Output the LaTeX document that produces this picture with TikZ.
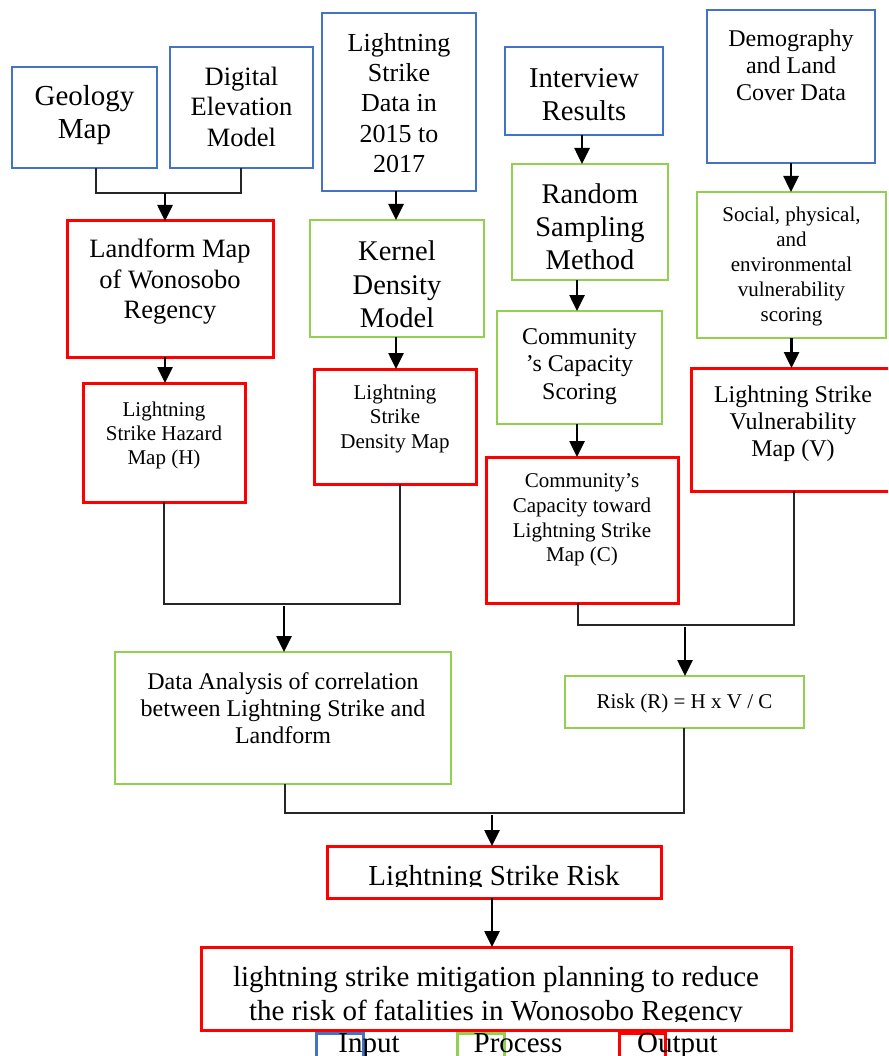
\documentclass[tikz,border=0pt]{standalone}
\usepackage{fontspec}
\setmainfont{Liberation Serif}
\usetikzlibrary{arrows.meta}
\definecolor{inblue}{RGB}{68,114,196}
\definecolor{prgreen}{RGB}{146,208,80}
\definecolor{outred}{RGB}{255,0,0}
\newcommand\fsz[2]{\fontsize{#1pt}{#2pt}\selectfont}
\begin{document}
\begin{tikzpicture}[x=1pt,y=-1pt,
 inbox/.style={draw=inblue,line width=2.5pt,inner sep=0pt,outer sep=0pt},
 prbox/.style={draw=prgreen,line width=2.5pt,inner sep=0pt,outer sep=0pt},
 outbox/.style={draw=outred,line width=3pt,inner sep=0pt,outer sep=0pt},
 txt/.style={align=center,inner sep=0pt,outer sep=0pt,text=black},
 conn/.style={draw=black!85,line width=1.3pt},
 arr/.style={draw=black,line width=2.6pt,-{Triangle[width=15pt,length=16pt]}},
 bw/.style 2 args={minimum width=#1pt,minimum height=#2pt}
]
\clip (0,0) rectangle (888,1056);
\fill[white] (0,0) rectangle (888,1056);

% inputs
\node[inbox,bw={145}{101}] (geo) at (84.5,117.5) {};
\node[txt,font=\fsz{29}{33}] (geot) at (84.5,115) {Geology\\Map};
\node[inbox,bw={143}{121}] (dem) at (241.5,107.5) {};
\node[txt,font=\fsz{26.5}{30.5}] (demt) at (241.5,106.5) {Digital\\Elevation\\Model};
\node[inbox,bw={154}{178}] (lsd) at (399,102) {};
\node[txt,font=\fsz{26}{30.3}] (lsdt) at (399,103) {Lightning\\Strike\\Data in\\2015 to\\2017};
\node[inbox,bw={158}{88}] (int) at (584,91) {};
\node[txt,font=\fsz{28.7}{33}] (intt) at (584,94.5) {Interview\\Results};
\node[inbox,bw={168}{153}] (demo) at (791,86.5) {};
\node[txt,font=\fsz{24}{27}] (demot) at (791,65) {Demography\\and Land\\Cover Data};

% second row
\node[outbox,bw={206}{136}] (land) at (170,289) {};
\node[txt,font=\fsz{26.5}{30.5}] (landt) at (170,282) {Landform Map\\of Wonosobo\\Regency};
\node[prbox,bw={174}{117}] (kern) at (397,278.5) {};
\node[txt,font=\fsz{28.5}{33.5}] (kernt) at (397,284.5) {Kernel\\Density\\Model};
\node[prbox,bw={156}{116}] (rand) at (590,222) {};
\node[txt,font=\fsz{28.5}{33}] (randt) at (590,227) {Random\\Sampling\\Method};
\node[prbox,bw={189}{146}] (soc) at (791.5,265) {};
\node[txt,font=\fsz{21}{24.8}] (soct) at (791.5,266.5) {Social, physical,\\and\\environmental\\vulnerability\\scoring};

% third row
\node[outbox,bw={162}{119}] (haz) at (164,442.5) {};
\node[txt,font=\fsz{21}{24}] (hazt) at (164,435) {Lightning\\Strike Hazard\\Map (H)};
\node[outbox,bw={162}{115}] (dens) at (395,426.5) {};
\node[txt,font=\fsz{21}{24.5}] (denst) at (395,418.5) {Lightning\\Strike\\Density Map};
\node[prbox,bw={165}{113}] (caps) at (579.5,367.5) {};
\node[txt,font=\fsz{24}{27.5}] (capst) at (579.5,366.5) {Community\\’s Capacity\\Scoring};
\node[outbox,bw={201}{123}] (vuln) at (791.5,429.5) {};
\node[txt,font=\fsz{24}{27}] (vulnt) at (793,424) {Lightning Strike\\Vulnerability\\Map (V)};
\node[outbox,bw={192}{146}] (capm) at (582,530) {};
\node[txt,font=\fsz{21}{24.6}] (capmt) at (582,520) {Community’s\\Capacity toward\\Lightning Strike\\Map (C)};

% analysis row
\node[prbox,bw={336}{132}] (ana) at (283,718) {};
\node[txt,font=\fsz{24}{27}] (anat) at (283,708) {Data Analysis of correlation\\between Lightning Strike and\\Landform};
\node[prbox,bw={239}{52}] (risk) at (684.5,702) {};
\node[txt,font=\fsz{21}{24}] (riskt) at (684.5,703) {Risk (R) = H x V / C};

% outputs
\node[outbox,bw={334}{52}] (lsr) at (494,872) {};
\begin{scope}
\clip (327,846) rectangle (661,886);
\node[txt,font=\fsz{29}{34},anchor=base] (lsrt) at (494,885) {Lightning Strike Risk};
\end{scope}
\node[outbox,bw={590}{83}] (fin) at (496,988.5) {};
\begin{scope}
\clip (201,947) rectangle (791,1021);
\node[txt,font=\fsz{29}{34},anchor=base] (fint1) at (496,986) {lightning strike mitigation planning to reduce};
\node[txt,font=\fsz{29}{34},anchor=base] (fint2) at (496,1020) {the risk of fatalities in Wonosobo Regency};
\end{scope}

% legend
\node[inbox,line width=3pt,bw={47}{40}] (lgin) at (339.5,1053) {};
\node[txt,font=\fsz{29}{33},anchor=base] (lgint) at (369,1052) {Input};
\node[prbox,line width=3pt,bw={47}{40}] (lgpr) at (480.5,1053) {};
\node[txt,font=\fsz{29}{33},anchor=base] (lgprt) at (518,1052) {Process};
\node[outbox,line width=3pt,bw={46}{40}] (lgout) at (642,1053) {};
\node[txt,font=\fsz{29}{33},anchor=base] (lgoutt) at (677.5,1052) {Output};

% junction coordinates
\coordinate (g1) at (96,193);
\coordinate (g2) at (241,193);
\coordinate (g0) at (165,193);
\coordinate (k0) at (396,0);
\coordinate (i0) at (582,0);
\coordinate (r0) at (577,0);
\coordinate (h1) at (164,604);
\coordinate (h2) at (400,604);
\coordinate (h0) at (284,606);
\coordinate (c1) at (578,625);
\coordinate (c2) at (794,625);
\coordinate (c0) at (685,627);
\coordinate (d1) at (285,813);
\coordinate (d2) at (684,813);
\coordinate (d0) at (492,815);

% connectors
\draw[conn] (geo.south -| g1) -- (g1) -- (g2) -- (dem.south -| g2);
\draw[arr] (g0) -- (land.north -| g0);
\draw[arr] (lsd.south -| k0) -- (kern.north -| k0);
\draw[arr] (int.south -| i0) -- (rand.north -| i0);
\draw[arr] (demo.south) -- (demo.south |- soc.north);
\draw[arr] (land.south -| g0) -- (haz.north -| g0);
\draw[arr] (kern.south -| k0) -- (dens.north -| k0);
\draw[arr] (rand.south -| r0) -- (caps.north -| r0);
\draw[arr] (caps.south -| r0) -- (capm.north -| r0);
\draw[arr] (soc.south) -- (soc.south |- vuln.north);
\draw[conn] (haz.south) -- (h1) -- (h2) -- (dens.south -| h2);
\draw[arr] (h0) -- (ana.north -| h0);
\draw[conn] (capm.south -| c1) -- (c1) -- (c2) -- (vuln.south -| c2);
\draw[arr] (c0) -- (risk.north -| c0);
\draw[conn] (ana.south -| d1) -- (d1) -- (d2) -- (risk.south -| d2);
\draw[arr] (d0) -- (lsr.north -| d0);
\draw[arr] (lsr.south -| d0) -- (fin.north -| d0);
\end{tikzpicture}
\end{document}
